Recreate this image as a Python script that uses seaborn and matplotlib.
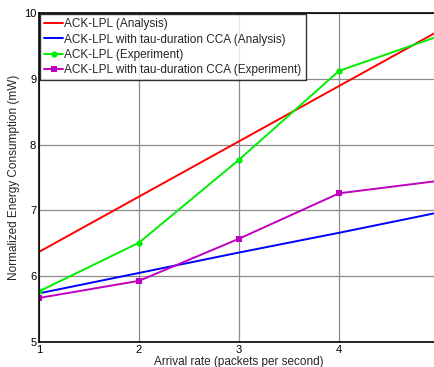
import matplotlib
matplotlib.use("Agg")
import matplotlib.pyplot as plt
import seaborn as sns
import pandas as pd

rates = [1, 2, 3, 4, 5]
analysis = [6.37, 7.21, 8.05, 8.89, 9.73]
tau_analysis = [5.74, 6.05, 6.36, 6.66, 6.97]
experiment = [5.77, 6.51, 7.77, 9.12, 9.65]
tau_experiment = [5.67, 5.93, 6.57, 7.26, 7.45]

labels = [
    "ACK-LPL (Analysis)",
    "ACK-LPL with tau-duration CCA (Analysis)",
    "ACK-LPL (Experiment)",
    "ACK-LPL with tau-duration CCA (Experiment)",
]
x_tick_labels = ["1", "2", "3", "4", ""]
series = [analysis, tau_analysis, experiment, tau_experiment]
colors = ["#ff0000", "#0000ff", "#00ee00", "#c000c0"]
markers = [None, None, "o", "s"]

sns.set_theme(style="white")
plt.rcParams["font.family"] = ["Liberation Sans", "DejaVu Sans"]

fig = plt.figure(figsize=(4.34, 3.67), dpi=100)
ax = fig.add_axes([0.0899, 0.068, 0.9216, 0.8966])

for lab, vals, col, mk in zip(labels, series, colors, markers):
    df = pd.DataFrame({"rate": rates, "energy": vals})
    sns.lineplot(data=df, x="rate", y="energy", ax=ax, color=col, lw=1.4,
                 marker=mk, markersize=4.5, markeredgewidth=0, label=lab)

ax.set_xlim(1, 5)
ax.set_ylim(5, 10)
ax.set_xticks(rates)
ax.set_xticklabels(x_tick_labels)
ax.set_yticks([5, 6, 7, 8, 9, 10])
ax.grid(True, color="#8c8c8c", lw=0.9)
ax.tick_params(direction="in", labelsize=8, length=3, colors="black", pad=2)
for sp in ax.spines.values():
    sp.set_color("black")
    sp.set_linewidth(1.2)
ax.set_xlabel("Arrival rate (packets per second)", fontsize=8.5, labelpad=1)
ax.set_ylabel("Normalized Energy Consumption (mW)", fontsize=8.5, labelpad=3)

leg = ax.legend(loc="upper left", fontsize=8.5, frameon=True, fancybox=False,
                borderpad=0.35, handlelength=1.6, handletextpad=0.1,
                labelspacing=0.28, borderaxespad=0.1)
leg.get_frame().set_edgecolor("black")
leg.get_frame().set_linewidth(1.0)

fig.savefig("out.png", dpi=100)
